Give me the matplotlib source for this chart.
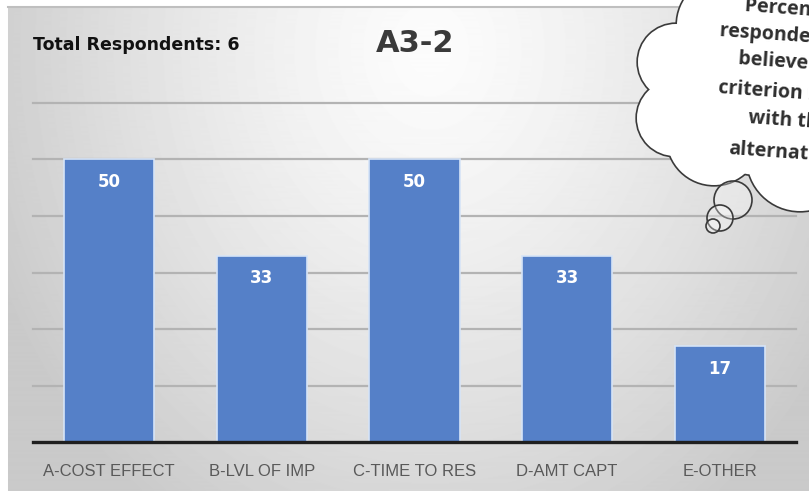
import numpy as np
import matplotlib
matplotlib.use("Agg")
import matplotlib.pyplot as plt
from matplotlib.patches import Circle

categories = ["A-COST EFFECT", "B-LVL OF IMP", "C-TIME TO RES", "D-AMT CAPT", "E-OTHER"]
percent = [50, 33, 50, 33, 17]
total_respondents = 6
chart_title = "A3-2"
cloud_lines = ["Percentage of", "respondents who", "believe the",
               "criterion is met", "with the", "alternative"]

W, H = 809, 494
BAR_COLOR = "#5580c8"

fig = plt.figure(figsize=(W / 100, H / 100), dpi=100)

# gray gradient panel behind everything
bg = fig.add_axes([0, 0, 1, 1], zorder=-2)
yy, xx = np.mgrid[0:H, 0:W]
d = np.sqrt(((xx - 430) / 470.0) ** 2 + ((yy - 50) / 560.0) ** 2)
shade = np.clip(252 - 50 * d ** 1.3, 202, 252) / 255.0
shade[:7, :] = 1.0
shade[:, :8] = 1.0
shade[491:, :] = 1.0
bg.imshow(shade, cmap="gray", vmin=0, vmax=1, extent=(0, W, H, 0), aspect="auto")
bg.plot([8, W], [7.5, 7.5], color="#bfbfbf", lw=1.5)
bg.set_xlim(0, W)
bg.set_ylim(H, 0)
bg.axis("off")

# main bar chart
ax = fig.add_axes([33 / W, 1 - 442 / H, (796 - 33) / W, (442 - 103) / H])
ax.set_facecolor("none")
x = np.arange(len(categories))
ax.bar(x, percent, width=0.59, color=BAR_COLOR, edgecolor="#d6e4f7",
       linewidth=1.2, zorder=3)
for xi, v in zip(x, percent):
    ax.text(xi, v - 4, str(v), ha="center", va="center", color="white",
            fontsize=12, fontweight="bold", zorder=4)
ax.set_xlim(-0.5, len(categories) - 0.5)
ax.set_ylim(0, 60)
ax.set_yticks(np.arange(10, 61, 10))
ax.yaxis.grid(True, color="#b3b3b3", lw=1.6, zorder=1)
for gl in ax.get_ygridlines():
    gl.set_clip_on(False)
ax.tick_params(axis="y", left=False, labelleft=False)
ax.set_xticks(x)
ax.set_xticklabels(categories, fontsize=12, color="#595959",
                   family=["Liberation Sans Narrow", "Liberation Sans", "DejaVu Sans"])
ax.tick_params(axis="x", length=0, pad=16)
for side in ["top", "right", "left"]:
    ax.spines[side].set_visible(False)
ax.spines["bottom"].set_color("#1f1f1f")
ax.spines["bottom"].set_linewidth(2.4)
ax.spines["bottom"].set_zorder(5)

# overlay in pixel coordinates for titles and the thought bubble
ov = fig.add_axes([0, 0, 1, 1], zorder=5)
ov.set_xlim(0, W)
ov.set_ylim(H, 0)
ov.axis("off")

ov.text(33, 45, f"Total Respondents: {total_respondents}", fontsize=12.5,
        fontweight="bold", color="#111111", ha="left", va="center")
ov.text(415, 44, chart_title, fontsize=22, fontweight="bold", color="#3a3a3a",
        ha="center", va="center")

lobes = [(725, 25, 48), (676, 62, 38), (675, 118, 38), (714, 138, 47),
         (800, 158, 53), (760, 90, 85), (800, 40, 60)]
for cx, cy, r in lobes:
    ov.add_patch(Circle((cx, cy), r, facecolor="none", edgecolor="#3a3a3a", lw=2.4))
for cx, cy, r in lobes:
    ov.add_patch(Circle((cx, cy), r, facecolor="white", edgecolor="none"))

for cx, cy, r in [(733, 200, 19), (720, 218, 13), (713, 226, 7)]:
    ov.add_patch(Circle((cx, cy), r, facecolor=(1, 1, 1, 0.3),
                        edgecolor="#3a3a3a", lw=1.2))

starts = [(745, 6), (720, 31), (738, 59), (718, 88), (748, 118), (728, 149)]
for (sx, sy), line in zip(starts, cloud_lines):
    ov.text(sx, sy, line, fontsize=14, fontweight="bold", color="#2e2e2e",
            family=["Open Sans", "DejaVu Sans"], ha="left", va="center",
            rotation=-4, rotation_mode="anchor")

fig.savefig("out.png", dpi=100)
